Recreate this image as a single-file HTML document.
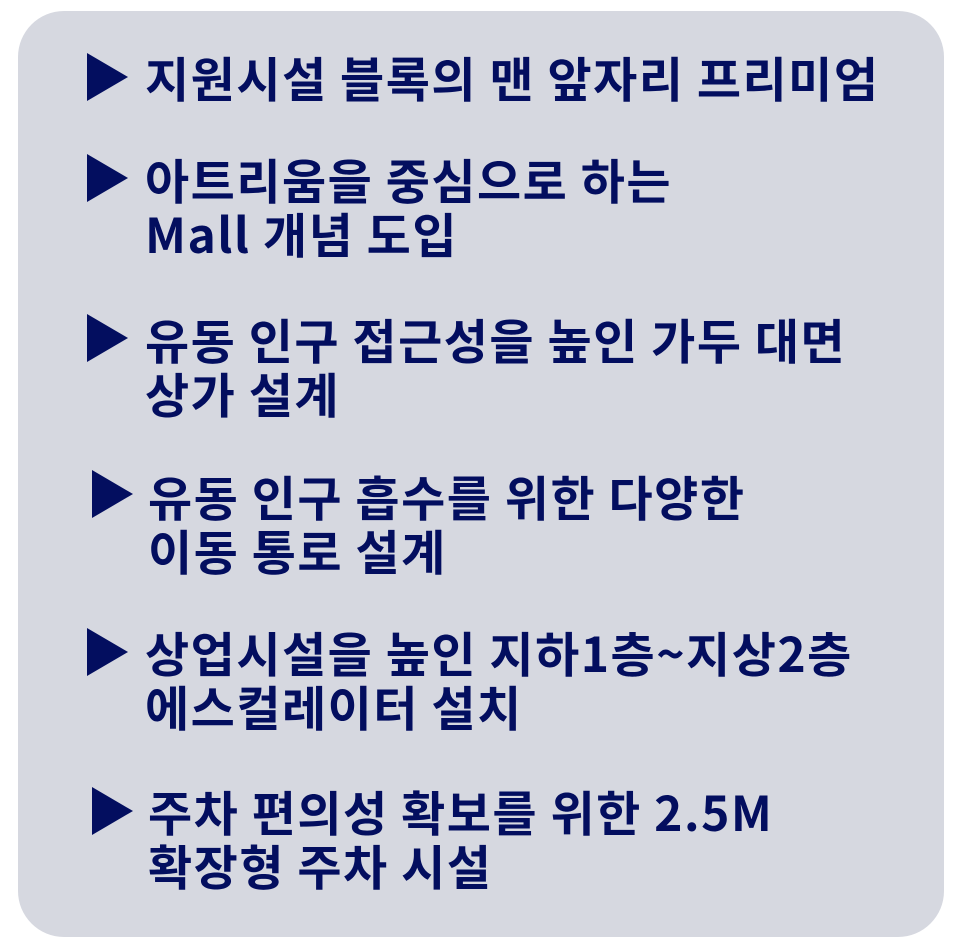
<!DOCTYPE html>
<html><head><meta charset="utf-8"><style>
html,body{margin:0;padding:0;background:#fff;width:960px;height:946px;overflow:hidden}
.box{position:absolute;left:18px;top:11px;width:926px;height:926px;background:#d6d8e0;border-radius:46px}
.t{position:absolute;font-family:"Noto Sans CJK KR","Liberation Sans",sans-serif;font-weight:bold;font-size:48px;letter-spacing:1.5px;line-height:54px;color:#030e5f;white-space:nowrap}
svg{position:absolute;left:0;top:0}
</style></head><body>
<div class="box"></div>
<svg width="960" height="946">
<g fill="#030e5f">
<polygon points="87,53 128,77 87,101"/>
<polygon points="87,154 128,178 87,202"/>
<polygon points="87,314 128,338 87,362"/>
<polygon points="92,470 133,494 92,518"/>
<polygon points="87,628 128,652 87,676"/>
<polygon points="92,787 133,811 92,835"/>
</g></svg>
<div class="t" style="left:145px;top:49px">지원시설 블록의 맨 앞자리 프리미엄</div>
<div class="t" style="left:145px;top:151px">아트리움을 중심으로 하는<br>Mall 개념 도입</div>
<div class="t" style="left:145px;top:311px">유동 인구 접근성을 높인 가두 대면<br>상가 설계</div>
<div class="t" style="left:148px;top:468px">유동 인구 흡수를 위한 다양한<br>이동 통로 설계</div>
<div class="t" style="left:145px;top:624px">상업시설을 높인 지하1층~지상2층<br>에스컬레이터 설치</div>
<div class="t" style="left:148px;top:783px">주차 편의성 확보를 위한 2.5M<br>확장형 주차 시설</div>
</body></html>
